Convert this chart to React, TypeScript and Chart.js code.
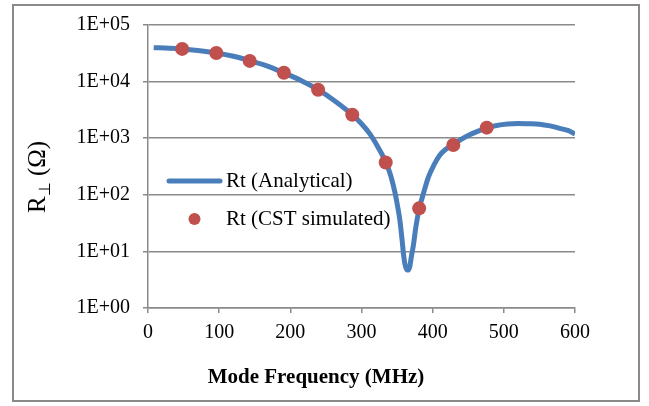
import React, { useEffect, useRef } from "react";
import { Chart, registerables } from "chart.js";

Chart.register(...registerables);

// Analytical curve (MHz, Ohm)
const analyticalFreq = [8, 30, 48, 70, 96, 120, 143, 167, 191, 215, 239, 263, 287, 300, 312, 323, 334, 341, 347, 351, 354, 357, 359, 361, 364, 366, 368, 370, 373, 376, 379, 381, 386, 394, 402, 410, 418, 429, 440, 452, 465, 476, 490, 505, 520, 535, 550, 565, 580, 590, 600];
const analyticalR = [39700, 39000, 37800, 35500, 32000, 28000, 23500, 19000, 14300, 10500, 7200, 4500, 2600, 1800, 1180, 700, 380, 220, 110, 60, 35, 16, 9, 6, 4.7, 4.7, 5.5, 8, 13, 25, 42, 57, 95, 205, 340, 500, 630, 757, 950, 1150, 1350, 1530, 1680, 1780, 1820, 1800, 1770, 1650, 1480, 1370, 1190];

// CST simulated points
const cstFreq = [48, 96, 143, 191, 239, 287, 334, 381, 429, 476];
const cstR = [37800, 32100, 23200, 14300, 7170, 2600, 372, 57.6, 757, 1537];

const yTickValues = [1, 10, 100, 1000, 10000, 100000];
const xTitle = "Mode Frequency (MHz)";
const legendLabels = ["Rt (Analytical)", "Rt (CST simulated)"];

const BLUE = "#4a7ebb";
const RED = "#c0504d";
const GRID = "#8a8a8a";
const SERIF = '"Liberation Serif", "Times New Roman", serif';

const decorPlugin = {
  id: "decor",
  afterDraw(chart: any) {
    const ctx = chart.ctx as CanvasRenderingContext2D;
    ctx.save();
    // outer frame
    ctx.strokeStyle = GRID;
    ctx.lineWidth = 2;
    ctx.strokeRect(13, 5, 626, 396);

    // x axis title
    ctx.fillStyle = "#000";
    ctx.font = `bold 21px ${SERIF}`;
    ctx.textAlign = "center";
    ctx.textBaseline = "alphabetic";
    ctx.fillText(xTitle, 316, 383);

    // y axis title: R⊥ (Ω)
    ctx.save();
    ctx.translate(45, 213);
    ctx.rotate(-Math.PI / 2);
    ctx.textAlign = "left";
    ctx.font = `25px ${SERIF}`;
    ctx.fillText("R", 0, 0);
    let w = ctx.measureText("R").width;
    ctx.font = `16px ${SERIF}`;
    ctx.fillText("\u22A5", w, 5);
    w += ctx.measureText("\u22A5").width;
    ctx.font = `25px ${SERIF}`;
    ctx.fillText(" (\u03A9)", w, 0);
    ctx.restore();

    // legend
    ctx.font = `21px ${SERIF}`;
    ctx.textAlign = "left";
    ctx.strokeStyle = BLUE;
    ctx.lineWidth = 5;
    ctx.lineCap = "round";
    ctx.beginPath();
    ctx.moveTo(169, 181);
    ctx.lineTo(220, 181);
    ctx.stroke();
    ctx.fillStyle = "#000";
    ctx.fillText(legendLabels[0], 226, 187);
    ctx.fillStyle = RED;
    ctx.beginPath();
    ctx.arc(194.5, 219, 6, 0, Math.PI * 2);
    ctx.fill();
    ctx.fillStyle = "#000";
    ctx.fillText(legendLabels[1], 226, 225);
    ctx.restore();
  },
};

export default function App() {
  const canvasRef = useRef<HTMLCanvasElement>(null);

  useEffect(() => {
    if (!canvasRef.current) return;
    Chart.defaults.font.family = SERIF;
    Chart.defaults.color = "#000";
    const chart = new Chart(canvasRef.current, {
      type: "line",
      data: {
        datasets: [
          {
            type: "scatter",
            label: legendLabels[1],
            data: cstFreq.map((x, i) => ({ x, y: cstR[i] })),
            backgroundColor: RED,
            borderColor: RED,
            borderWidth: 0,
            pointRadius: 7,
            showLine: false,
            order: 0,
          },
          {
            type: "line",
            label: legendLabels[0],
            data: analyticalFreq.map((x, i) => ({ x, y: analyticalR[i] })),
            borderColor: BLUE,
            borderWidth: 5,
            pointRadius: 0,
            cubicInterpolationMode: "monotone",
            fill: false,
            order: 1,
          },
        ],
      },
      options: {
        responsive: false,
        animation: false,
        devicePixelRatio: 1,
        layout: { padding: { left: 0, right: 74, top: 24, bottom: 0 } },
        plugins: { legend: { display: false }, tooltip: { enabled: false } },
        scales: {
          x: {
            type: "linear",
            min: 0,
            max: 600,
            ticks: { stepSize: 100, font: { size: 20 }, padding: 8, color: "#000" },
            grid: { drawOnChartArea: false, drawTicks: true, tickLength: 5, color: GRID, lineWidth: 1.5 },
            border: { display: true, color: GRID, width: 1.5 },
            afterFit: (s: any) => { s.height = 98; },
          },
          y: {
            type: "logarithmic",
            min: 1,
            max: 100000,
            afterBuildTicks: (axis: any) => {
              axis.ticks = yTickValues.map((v) => ({ value: v }));
            },
            ticks: {
              font: { size: 20 },
              padding: 13,
              color: "#000",
              callback: (v: any) => "1E+0" + Math.round(Math.log10(Number(v))),
            },
            grid: { color: GRID, lineWidth: 1.5, tickLength: 5 },
            border: { display: true, color: GRID, width: 1.5 },
            afterFit: (s: any) => { s.width = 148; },
          },
        },
      },
      plugins: [decorPlugin],
    });
    return () => chart.destroy();
  }, []);

  return (
    <div style={{ position: "fixed", left: 0, top: 0, width: 649, height: 406, background: "#fff" }}>
      <canvas ref={canvasRef} width={649} height={406} />
    </div>
  );
}
